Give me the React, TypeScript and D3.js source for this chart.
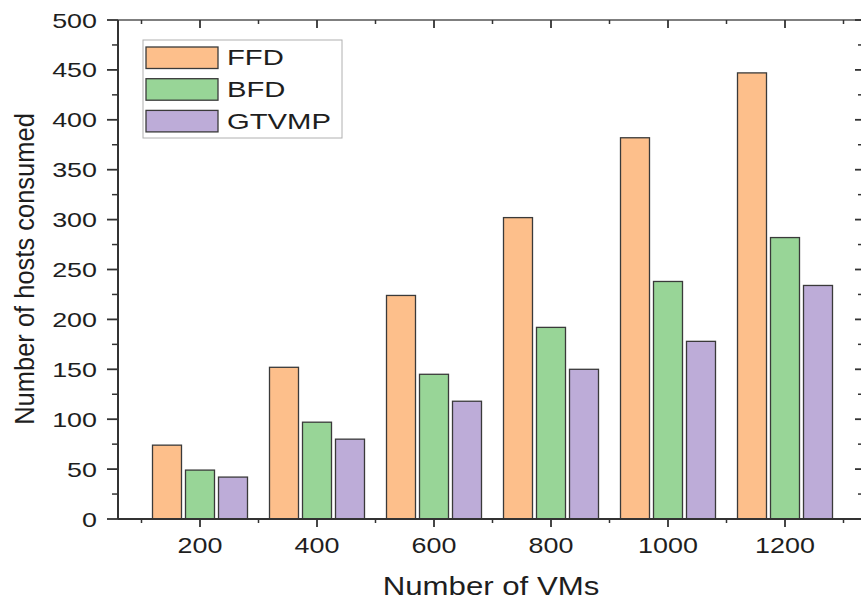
import React from "react";
import * as d3 from "d3";

const categories = [200, 400, 600, 800, 1000, 1200];
const seriesNames = ["FFD", "BFD", "GTVMP"];
const ffd = [74, 152, 224, 302, 382, 447];
const bfd = [49, 97, 145, 192, 238, 282];
const gtvmp = [42, 80, 118, 150, 178, 234];
const yTicks = [0, 50, 100, 150, 200, 250, 300, 350, 400, 450, 500];
const yMinor = [25, 75, 125, 175, 225, 275, 325, 375, 425, 475];
const xMinor = [100, 300, 500, 700, 900, 1100, 1300];
const colors = ["#FDBF8B", "#98D597", "#BDACD8"];

const W = 861;
const H = 602;
const left = 118;
const right = 863;
const top = 20;
const bottom = 519;

export default function App() {
  const x = d3.scaleLinear().domain([200, 1200]).range([200, 785]);
  const y = d3.scaleLinear().domain([0, 500]).range([bottom, top]);
  const series = [ffd, bfd, gtvmp];
  const barW = 29;
  const step = 33;
  const font = "Liberation Sans, Arial, sans-serif";
  const axisColor = "#333";
  const textColor = "#1e1e1e";

  return (
    <svg
      width={W}
      height={H}
      style={{ position: "absolute", left: 0, top: 0, background: "#fff" }}
      fontFamily={font}
    >
      <rect x={0} y={0} width={W} height={H} fill="#fff" />
      {/* bars */}
      {series.map((vals, si) =>
        vals.map((v, i) => {
          const cx = x(categories[i]) + (si - 1) * step;
          return (
            <rect
              key={`b-${si}-${i}`}
              x={cx - barW / 2}
              y={y(v)}
              width={barW}
              height={y(0) - y(v)}
              fill={colors[si]}
              stroke="#3a3a3a"
              strokeWidth={1.3}
            />
          );
        })
      )}
      {/* frame */}
      <line x1={left} x2={right} y1={top} y2={top} stroke="#555" strokeWidth={1.5} />
      <line x1={right} x2={right} y1={top} y2={bottom} stroke="#555" strokeWidth={1.5} />
      <line x1={left} x2={left} y1={top} y2={bottom} stroke={axisColor} strokeWidth={2} />
      <line x1={left} x2={right} y1={bottom} y2={bottom} stroke={axisColor} strokeWidth={2} />
      {/* y ticks */}
      {yTicks.map((t) => (
        <g key={`yt-${t}`}>
          <line x1={left - 11} x2={left} y1={y(t)} y2={y(t)} stroke={axisColor} strokeWidth={1.8} />
          <line x1={right - 8} x2={right} y1={y(t)} y2={y(t)} stroke={axisColor} strokeWidth={1.8} />
          <text
            transform={`translate(${left - 21},${y(t)}) scale(1.28,1)`}
            textAnchor="end"
            dy="0.36em"
            fontSize={21}
            fill={textColor}
          >
            {t}
          </text>
        </g>
      ))}
      {yMinor.map((t) => (
        <g key={`ym-${t}`}>
          <line x1={left - 6} x2={left} y1={y(t)} y2={y(t)} stroke={axisColor} strokeWidth={1.5} />
          <line x1={right - 5} x2={right} y1={y(t)} y2={y(t)} stroke={axisColor} strokeWidth={1.5} />
        </g>
      ))}
      {/* x ticks */}
      {categories.map((c) => (
        <g key={`xt-${c}`}>
          <line x1={x(c)} x2={x(c)} y1={bottom} y2={bottom + 8} stroke={axisColor} strokeWidth={1.8} />
          <line x1={x(c)} x2={x(c)} y1={top} y2={top + 8} stroke={axisColor} strokeWidth={1.8} />
          <text
            transform={`translate(${x(c)},553) scale(1.25,1)`}
            textAnchor="middle"
            fontSize={21.5}
            fill={textColor}
          >
            {c}
          </text>
        </g>
      ))}
      {xMinor.map((c) => (
        <g key={`xm-${c}`}>
          <line x1={x(c)} x2={x(c)} y1={bottom} y2={bottom + 4} stroke={axisColor} strokeWidth={1.5} />
          <line x1={x(c)} x2={x(c)} y1={top} y2={top + 4} stroke={axisColor} strokeWidth={1.5} />
        </g>
      ))}
      {/* axis titles */}
      <text
        transform={`translate(491,595) scale(1.2,1)`}
        textAnchor="middle"
        fontSize={26}
        fill={textColor}
      >
        Number of VMs
      </text>
      <text
        transform={`translate(34,269) scale(1.12,1) rotate(-90)`}
        textAnchor="middle"
        fontSize={25.5}
        fill={textColor}
      >
        Number of hosts consumed
      </text>
      {/* legend */}
      <rect x={143} y={40} width={199} height={98} fill="#fff" stroke="#b0b0b0" strokeWidth={1} />
      {seriesNames.map((n, i) => (
        <g key={`lg-${n}`}>
          <rect
            x={146}
            y={47 + i * 31.7}
            width={72}
            height={21.5}
            fill={colors[i]}
            stroke="#3a3a3a"
            strokeWidth={1.3}
          />
          <text
            transform={`translate(227,${65 + i * 32}) scale(1.33,1)`}
            fontSize={22}
            fill={textColor}
          >
            {n}
          </text>
        </g>
      ))}
    </svg>
  );
}
